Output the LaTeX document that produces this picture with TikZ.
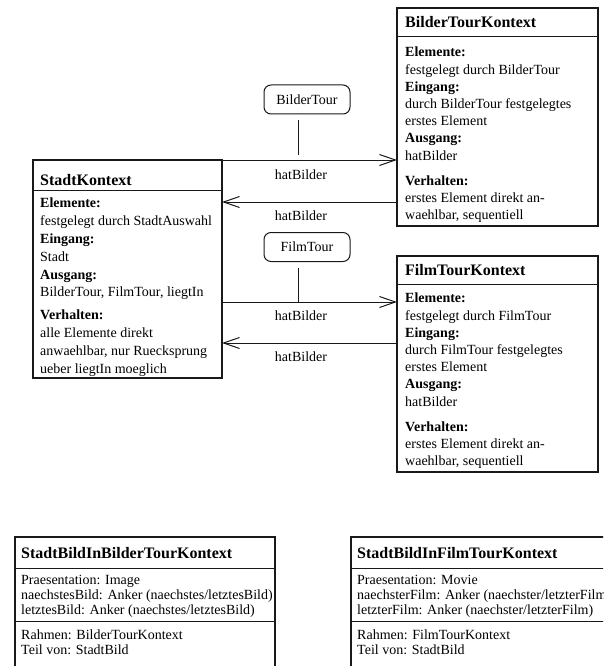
\documentclass[tikz,border=0pt]{standalone}
\usepackage{fontspec}
\setmainfont{Liberation Serif}
\usetikzlibrary{arrows.meta,calc}

\tikzset{
  frame/.style={draw=black!90, line width=1.1pt, inner sep=0pt, outer sep=0pt,
    anchor=north west},
  rule/.style={draw=black!90, line width=1pt},
  title/.style={anchor=west, inner sep=0pt, font=\fontsize{16pt}{19pt}\selectfont\bfseries},
  body/.style={anchor=north west, inner sep=0pt, align=left,
    font=\fontsize{14pt}{17.2pt}\selectfont},
  slim/.style={anchor=north west, inner sep=0pt, align=left,
    font=\fontsize{14pt}{15pt}\selectfont},
  tour/.style={draw=black!90, line width=1pt, rounded corners=7pt, inner sep=0pt,
    minimum width=86pt, minimum height=29pt, font=\fontsize{14pt}{17pt}\selectfont},
  link/.style={draw=black!90, line width=1pt,
    -{Straight Barb[length=16pt,width=11pt,line width=1pt]}},
  stem/.style={draw=black!90, line width=1pt},
  lbl/.style={inner sep=0pt, font=\fontsize{14pt}{17pt}\selectfont}
}

\begin{document}
\begin{tikzpicture}[x=1pt,y=-1pt]
\useasboundingbox (0,0) rectangle (603,666);
\clip (0,0) rectangle (603,666);

% ---- context classes ----
\node[frame, minimum width=201pt, minimum height=218pt] (bilder) at (397,8) {};
\draw[rule] ([yshift=-29pt]bilder.north west) -- ([yshift=-29pt]bilder.north east);
\node[title] (bilder-t) at (405,22.5) {BilderTourKontext};
\node[body] (bilder-b) at (405,47) {\textbf{Elemente:}\\
festgelegt durch BilderTour\\
\textbf{Eingang:}\\
durch BilderTour festgelegtes\\
erstes Element\\
\textbf{Ausgang:}\\
hatBilder\\[8pt]
\textbf{Verhalten:}\\
erstes Element direkt an-\\
waehlbar, sequentiell};

\node[frame, minimum width=201pt, minimum height=216pt] (film) at (397,256) {};
\draw[rule] ([yshift=-28pt]film.north west) -- ([yshift=-28pt]film.north east);
\node[title] (film-t) at (405,270) {FilmTourKontext};
\node[body] (film-b) at (405,293) {\textbf{Elemente:}\\
festgelegt durch FilmTour\\
\textbf{Eingang:}\\
durch FilmTour festgelegtes\\
erstes Element\\
\textbf{Ausgang:}\\
hatBilder\\[8pt]
\textbf{Verhalten:}\\
erstes Element direkt an-\\
waehlbar, sequentiell};

\node[frame, minimum width=189pt, minimum height=218pt] (stadt) at (33,160) {};
\draw[rule] ([yshift=-30pt]stadt.north west) -- ([yshift=-30pt]stadt.north east);
\node[title] (stadt-t) at (40,180) {StadtKontext};
\node[body, font=\fontsize{14pt}{17.8pt}\selectfont] (stadt-b) at (40,198) {\textbf{Elemente:}\\
festgelegt durch StadtAuswahl\\
\textbf{Eingang:}\\
Stadt\\
\textbf{Ausgang:}\\
BilderTour, FilmTour, liegtIn\\[5pt]
\textbf{Verhalten:}\\
alle Elemente direkt\\
anwaehlbar, nur Ruecksprung\\
ueber liegtIn moeglich};

% ---- tours ----
\node[tour] (bt) at (307,99.5) {BilderTour};
\node[tour] (ft) at (307,247) {FilmTour};
\coordinate (bt-s) at (298,120);
\coordinate (bt-e) at (298,155);
\coordinate (ft-s) at (298,268);
\draw[stem] (bt-s) -- (bt-e);

% ---- hatBilder links ----
\draw[link] (stadt.north east) -- (stadt.north east -| bilder.west);
\draw[link] (bilder.west |- 0,202) -- (stadt.east |- 0,202);
\draw[link] (stadt.east |- 0,302) coordinate (ft-e) -- (film.west |- 0,302);
\draw[link] (film.west |- 0,343) -- (stadt.east |- 0,343);
\draw[stem] (ft-s) -- (ft-s |- ft-e);

\node[lbl] (l1) at (301,175) {hatBilder};
\node[lbl] (l2) at (301,216) {hatBilder};
\node[lbl] (l3) at (301,316) {hatBilder};
\node[lbl] (l4) at (301,357) {hatBilder};

% ---- picture-in-tour contexts ----
\node[frame, minimum width=260pt, minimum height=145pt] (sbb) at (15,537) {};
\draw[rule] ([yshift=-31pt]sbb.north west) -- ([yshift=-31pt]sbb.north east);
\draw[rule] ([yshift=-84pt]sbb.north west) -- ([yshift=-84pt]sbb.north east);
\node[title] (sbb-t) at (21,553) {StadtBildInBilderTourKontext};
\node[slim] (sbb-a) at (21,575) {Praesentation: Image\\
naechstesBild: Anker (naechstes/letztesBild)\\
letztesBild: Anker (naechstes/letztesBild)};
\node[slim] (sbb-r) at (21,630) {Rahmen: BilderTourKontext\\
Teil von: StadtBild};

\node[frame, minimum width=260pt, minimum height=145pt] (sbf) at (351,537) {};
\draw[rule] ([yshift=-31pt]sbf.north west) -- ([yshift=-31pt]sbf.north east);
\draw[rule] ([yshift=-84pt]sbf.north west) -- ([yshift=-84pt]sbf.north east);
\node[title] (sbf-t) at (357,553) {StadtBildInFilmTourKontext};
\node[slim] (sbf-a) at (357,575) {Praesentation: Movie\\
naechsterFilm: Anker (naechster/letzterFilm)\\
letzterFilm: Anker (naechster/letzterFilm)};
\node[slim] (sbf-r) at (357,630) {Rahmen: FilmTourKontext\\
Teil von: StadtBild};
\end{tikzpicture}
\end{document}
